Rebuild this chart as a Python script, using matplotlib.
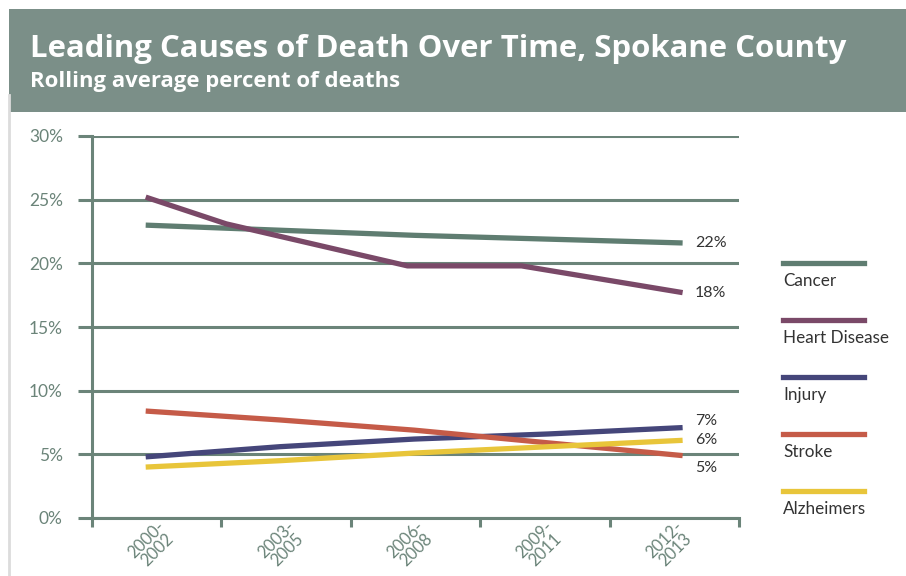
import numpy as np
import matplotlib.pyplot as plt
from matplotlib.patches import Rectangle
from matplotlib.lines import Line2D
from matplotlib.ticker import PercentFormatter, FixedLocator

plt.rcParams['font.family'] = ['Lato', 'DejaVu Sans']

periods = ['2000-\n2002', '2003-\n2005', '2006-\n2008', '2009-\n2011', '2012-\n2013']
x = [0, 1, 2, 3, 4]
cancer = [23.0, 22.6, 22.2, 21.9, 21.6]
heart_x = [0, 0.6, 1.95, 2.8, 4]
heart = [25.2, 23.1, 19.8, 19.8, 17.7]
injury = [4.8, 5.6, 6.2, 6.6, 7.1]
stroke = [8.4, 7.7, 6.9, 5.9, 4.9]
alzheimers = [4.0, 4.5, 5.1, 5.6, 6.1]

names = ['Cancer', 'Heart Disease', 'Injury', 'Stroke', 'Alzheimers']
colors = ['#5f7d71', '#7a4968', '#45467a', '#c55b48', '#e8c53a']
end_labels = ['22%', '18%', '7%', '5%', '6%']
label_shift = [0, 0, 5, -9, 0]  # points, to keep end labels apart

grid_c = '#6b8479'
head_c = '#7b8f88'
text_c = '#333333'

W, H = 906, 576
fig = plt.figure(figsize=(W / 100, H / 100), dpi=100)

# header band
fig.patches.append(Rectangle((9 / W, 1 - 112 / H), 1, 103 / H, transform=fig.transFigure,
                             facecolor=head_c, edgecolor='none'))
fig.text(30 / W, 1 - 57 / H, 'Leading Causes of Death Over Time, Spokane County',
         color='white', fontsize=22.4, fontweight='bold', va='baseline', family='Open Sans')
fig.text(30 / W, 1 - 87 / H, 'Rolling average percent of deaths',
         color='white', fontsize=15.9, fontweight='bold', va='baseline', family='Open Sans')
fig.add_artist(Line2D([8.5 / W, 8.5 / W], [0, 1 - 95 / H], transform=fig.transFigure,
                      color='#dcdcdc', lw=2))

ax = fig.add_axes([92 / W, 1 - 518 / H, (739 - 92) / W, (518 - 136) / H])
ax.set_xlim(-0.4, 4.42)
ax.set_ylim(0, 30)
ax.set_axisbelow(True)

series = [(x, cancer), (heart_x, heart), (x, injury), (x, stroke), (x, alzheimers)]
for (xs, ys), c, lab, dy in zip(series, colors, end_labels, label_shift):
    ax.plot(xs, ys, color=c, lw=3.8, solid_capstyle='butt')
    ax.annotate(lab, (xs[-1], ys[-1]), xytext=(9, dy), textcoords='offset points',
                va='center', ha='left', fontsize=11.5, color=text_c)

ax.set_yticks(range(0, 31, 5))
ax.yaxis.set_major_formatter(PercentFormatter(decimals=0))
ax.yaxis.grid(True, color=grid_c, lw=2.2)
ax.tick_params(axis='y', length=10, width=2.2, color=grid_c, pad=11,
               labelsize=12.5, labelcolor=grid_c)

# category boundaries split the axis evenly, labels sit in the middle of each slot
bounds = np.linspace(*ax.get_xlim(), len(periods) + 1)
ax.xaxis.set_major_locator(FixedLocator(bounds))
ax.xaxis.set_major_formatter(plt.NullFormatter())
ax.xaxis.set_minor_locator(FixedLocator((bounds[:-1] + bounds[1:]) / 2))
ax.set_xticklabels(periods, minor=True, rotation=45, ha='right', va='top',
                   rotation_mode='anchor', multialignment='center', linespacing=0.95)
ax.tick_params(axis='x', which='major', length=6.5, width=2.2, color=grid_c)
ax.tick_params(axis='x', which='minor', length=0, pad=0, labelsize=12, labelcolor=grid_c)

for s in ['top', 'right']:
    ax.spines[s].set_visible(False)
for s in ['left', 'bottom']:
    ax.spines[s].set_color(grid_c)
    ax.spines[s].set_linewidth(2.2)

# legend: sample line with name underneath
for i, (n, c) in enumerate(zip(names, colors)):
    y = 1 - (263 + 57 * i) / H
    fig.add_artist(Line2D([783 / W, 864 / W], [y, y], transform=fig.transFigure, color=c, lw=3.8))
    fig.text(783 / W, y - 18 / H, n, fontsize=12.3, color=text_c, va='center', ha='left')

fig.savefig('out.png', dpi=100)
